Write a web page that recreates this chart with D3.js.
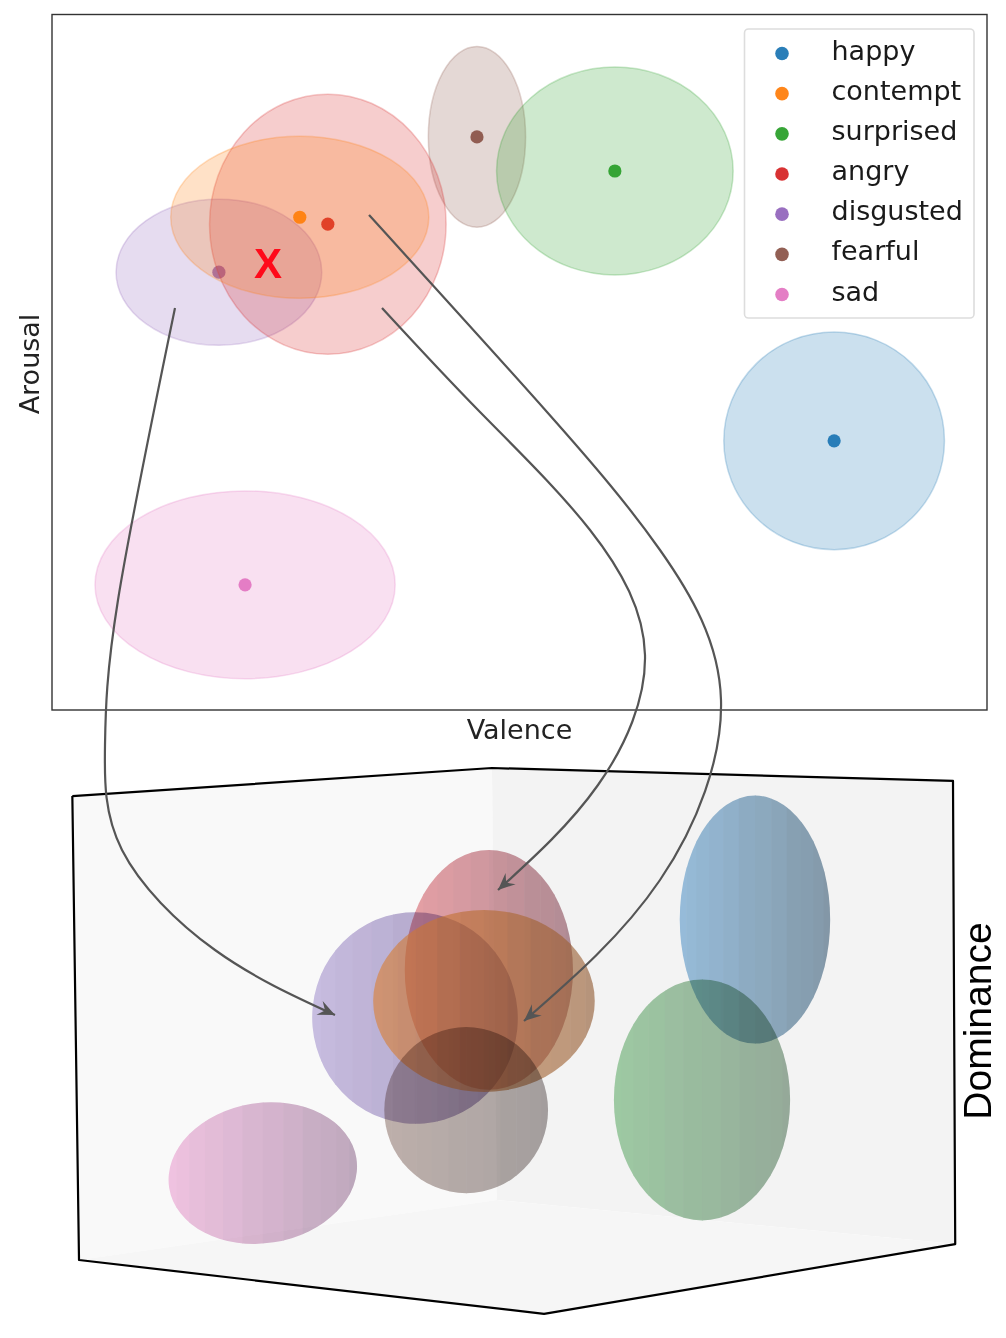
<!DOCTYPE html>
<html><head><meta charset="utf-8">
<script src="https://cdn.jsdelivr.net/npm/d3@7"></script>
<style>html,body{margin:0;padding:0;background:#fff}svg{display:block}</style>
</head><body><svg id="c" width="1006" height="1338"></svg>
<script>
const emotions=["happy","contempt","surprised","angry","disgusted","fearful","sad"];
const colors=["#1f77b4","#ff7f0e","#2ca02c","#d62728","#9467bd","#8c564b","#e377c2"];
const valence=[0.673,-0.470,0.204,-0.410,-0.643,-0.091,-0.587];
const arousal=[-0.226,0.417,0.550,0.397,0.259,0.648,-0.640];
const valenceSpread=[0.236,0.276,0.253,0.253,0.220,0.104,0.321];
const arousalSpread=[0.313,0.233,0.299,0.374,0.210,0.260,0.270];
// projected ellipsoids, in view units
const viewU=[0.546,-0.063,0.427,-0.052,-0.218,-0.103,-0.560];
const viewV=[0.438,0.142,-0.218,0.255,0.080,-0.255,-0.484];
const viewRU=[0.169,0.249,0.198,0.189,0.231,0.184,0.213];
const viewRV=[0.451,0.331,0.438,0.436,0.385,0.302,0.255];
const viewTilt=[0,0,0,0,-5,0,-9];
const drawOrder=[0,2,3,4,1,5,6];
const shadeLight=["rgb(158,199,231)","rgb(225,130,50)","rgb(166,213,171)","rgb(240,165,170)","rgb(206,196,232)","rgb(196,180,175)","rgb(248,201,232)"];
const shadeDark=["rgb(137,158,173)","rgb(140,85,45)","rgb(156,177,161)","rgb(181,145,155)","rgb(170,155,191)","rgb(170,165,165)","rgb(191,170,191)"];
const shellBlend=["multiply","normal","multiply","multiply","multiply","multiply","multiply"];
const shellOpacity=[1,0.6,1,1,1,1,1];
const boxLeftWall=[[-0.988,0.887],[-0.045,0.989],[-0.034,-0.582],[-0.973,-0.8]];
const boxRightWall=[[-0.045,0.989],[0.991,0.942],[0.996,-0.742],[-0.034,-0.582]];
const boxFloor=[[-0.973,-0.8],[-0.034,-0.582],[0.996,-0.742],[0.072,-0.996]];
const boxEdge=[[-0.988,0.887],[-0.045,0.989],[0.991,0.942],[0.996,-0.742],[0.072,-0.996],[-0.973,-0.8],[-0.988,0.887]];
const axisLabels=["Valence","Arousal","Dominance","X"];

const svg=d3.select("#c");
const defs=svg.append("defs");
const W=[52,987],H=[710,14.5];
const x=d3.scaleLinear().domain([-1,1]).range(W);
const y=d3.scaleLinear().domain([-1,1]).range(H);
const sx=d=>d*(W[1]-W[0])/2, sy=d=>d*(H[0]-H[1])/2;
const u=d3.scaleLinear().domain([-1,1]).range([67,957]);
const v=d3.scaleLinear().domain([-1,1]).range([1315,765]);
const su=d=>d*445, sv=d=>d*275;

// 3D box
const poly=p=>p.map(d=>[u(d[0]),v(d[1])].join(",")).join(" ");
svg.append("polygon").attr("points",poly(boxLeftWall)).attr("fill","#f9f9f9");
svg.append("polygon").attr("points",poly(boxRightWall)).attr("fill","#f3f3f3");
svg.append("polygon").attr("points",poly(boxFloor)).attr("fill","#f6f6f6");
svg.append("polyline").attr("points",poly(boxEdge)).attr("fill","none").attr("stroke","#000").attr("stroke-width",2.2).attr("stroke-linejoin","round");

// ellipsoids: meridian facets clipped to the outline
const facets=d3.range(16);
drawOrder.forEach(i=>{
  const cx=u(viewU[i]),cy=v(viewV[i]),rx=su(viewRU[i]),ry=sv(viewRV[i]);
  defs.append("clipPath").attr("id","clip"+i).append("ellipse").attr("cx",0).attr("cy",0).attr("rx",rx).attr("ry",ry).attr("transform",`rotate(${viewTilt[i]})`);
  const g=svg.append("g").attr("transform",`translate(${cx},${cy})`).attr("opacity",shellOpacity[i]).style("mix-blend-mode",shellBlend[i]);
  const inner=g.append("g").attr("clip-path",`url(#clip${i})`);
  const shade=d3.interpolateRgb(shadeLight[i],shadeDark[i]);
  const ext=rx*1.1;
  const edge=k=>-ext*Math.cos(Math.PI*k/16);
  inner.selectAll("rect").data(facets).join("rect")
    .attr("x",k=>edge(k))
    .attr("width",k=>edge(k+1)-edge(k)+0.6)
    .attr("y",-ry-12).attr("height",2*ry+24)
    .attr("fill",k=>shade(((edge(k)+edge(k+1))/2+ext)/(2*ext)*(k%3===1?1.03:0.98)));
});

// 2D panel: later emotions lie beneath earlier ones
const dj="'DejaVu Sans',sans-serif";
d3.range(emotions.length).reverse().forEach(i=>{
  svg.append("ellipse").attr("cx",x(valence[i])).attr("cy",y(arousal[i]))
    .attr("rx",sx(valenceSpread[i])).attr("ry",sy(arousalSpread[i]))
    .attr("fill",colors[i]).attr("fill-opacity",0.23)
    .attr("stroke",colors[i]).attr("stroke-opacity",0.25).attr("stroke-width",1.5);
  svg.append("circle").attr("cx",x(valence[i])).attr("cy",y(arousal[i])).attr("r",6.6)
    .attr("fill",colors[i]).attr("fill-opacity",0.95);
});
svg.append("rect").attr("x",W[0]).attr("y",H[1]).attr("width",W[1]-W[0]).attr("height",H[0]-H[1])
  .attr("fill","none").attr("stroke","#333").attr("stroke-width",1.4);

svg.append("text").attr("x",519.5).attr("y",739).attr("text-anchor","middle").attr("font-family",dj).attr("font-size",27).attr("fill","#222").text(axisLabels[0]);
svg.append("text").attr("transform","translate(39,364) rotate(-90)").attr("text-anchor","middle").attr("font-family",dj).attr("font-size",27).attr("fill","#222").text(axisLabels[1]);
svg.append("text").attr("transform","translate(991,1021) rotate(-90)").attr("text-anchor","middle").attr("font-family","'Liberation Sans',sans-serif").attr("font-size",39).attr("fill","#000").text(axisLabels[2]);
svg.append("text").attr("x",268).attr("y",278).attr("text-anchor","middle").attr("font-family","'Liberation Sans',sans-serif").attr("font-weight","bold").attr("font-size",42).attr("fill","#ff0a1a").text(axisLabels[3]);

// legend
const lg=svg.append("g");
lg.append("rect").attr("x",744.5).attr("y",29).attr("width",229.5).attr("height",289).attr("rx",4).attr("fill","#fff").attr("fill-opacity",0.85).attr("stroke","#ddd").attr("stroke-width",1.6);
const ly=d3.scalePoint().domain(emotions).range([53.5,294.5]);
lg.selectAll("circle").data(emotions).join("circle").attr("cx",782).attr("cy",d=>ly(d)).attr("r",6.8).attr("fill",(d,i)=>colors[i]).attr("fill-opacity",0.95);
lg.selectAll("text").data(emotions).join("text").attr("x",831.5).attr("y",d=>ly(d)+6).attr("font-family",dj).attr("font-size",27).attr("fill","#1a1a1a").text(d=>d);

// connecting arrows (page coordinates of the hand-drawn annotations)
const arrowA=[[175,308],[118,600],[105,745],[122,850],[215,950],[335,1015]];
const arrowB=[[382,308],[480,412],[590,530],[645,655],[598,785],[498,890]];
const arrowC=[[369,215],[547,412],[660,550],[721,700],[660,880],[524,1021]];
defs.append("marker").attr("id","ah").attr("viewBox","-18 -9 20 18").attr("refX",0).attr("refY",0)
  .attr("markerUnits","userSpaceOnUse").attr("markerWidth",20).attr("markerHeight",18).attr("orient","auto")
  .append("path").attr("d","M0,0 L-17,-7.5 L-11,0 L-17,7.5 Z").attr("fill","#555");
const line=d3.line().curve(d3.curveNatural);
svg.append("g").selectAll("path").data([arrowA,arrowB,arrowC]).join("path")
  .attr("d",line).attr("fill","none").attr("stroke","#555").attr("stroke-width",2.2).attr("marker-end","url(#ah)");
</script></body></html>
